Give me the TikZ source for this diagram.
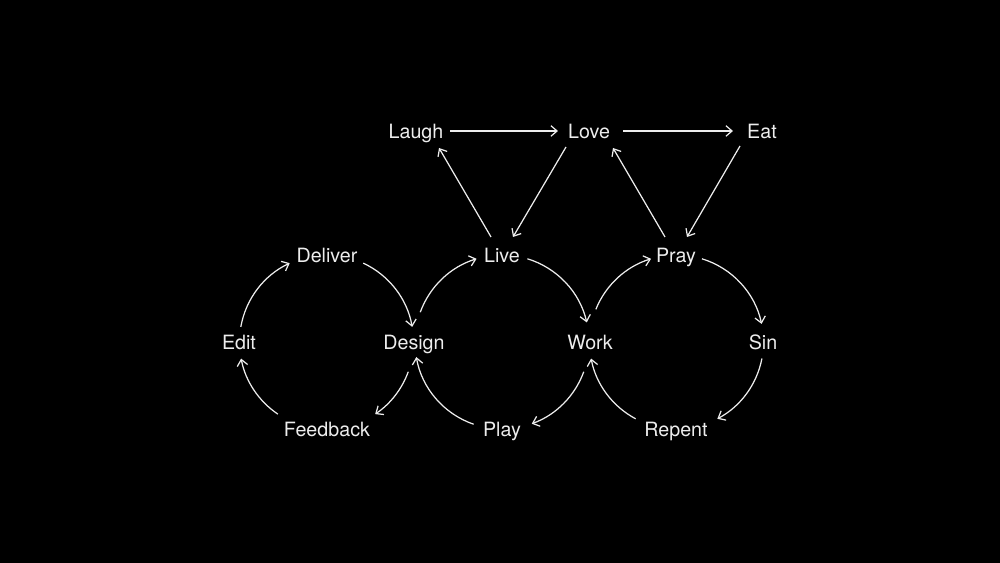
\documentclass[tikz,border=0pt]{standalone}
\usepackage{fontspec}
\setmainfont{TeX Gyre Heros}
\usetikzlibrary{arrows.meta,calc}
\definecolor{fg}{gray}{0.93}
\begin{document}
\begin{tikzpicture}[x=0.02cm,y=0.02cm,
  lbl/.style={text=fg, font=\fontsize{11.2}{13}\selectfont, inner sep=0pt, text height=8pt, text depth=0pt, anchor=center},
  arr/.style={draw=fg, line width=0.7pt, -{Straight Barb[length=3.5pt,width=6pt]}}]
\fill[black] (0,0) rectangle (1000,563);
\useasboundingbox (0,0) rectangle (1000,563);
% nodes
\node[lbl] (Laugh) at (416,432) {Laugh};
\node[lbl] (Love) at (589,432) {Love};
\node[lbl] (Eat) at (762,432) {Eat};
\node[lbl] (Deliver) at (327,308) {Deliver};
\node[lbl] (Live) at (502,308) {Live};
\node[lbl] (Pray) at (676,308) {Pray};
\node[lbl] (Edit) at (239,221) {Edit};
\node[lbl] (Design) at (414,221) {Design};
\node[lbl] (Work) at (590,221) {Work};
\node[lbl] (Sin) at (763,221) {Sin};
\node[lbl] (Feedback) at (327,134) {Feedback};
\node[lbl] (Play) at (502,134) {Play};
\node[lbl] (Repent) at (676,134) {Repent};
% circle centres
\coordinate (c1) at ($(Edit)!0.5!(Design)$);
\coordinate (c2) at ($(Design)!0.5!(Work)$);
\coordinate (c3) at ($(Work)!0.5!(Sin)$);
% straight connectors
\draw[arr] ($(Laugh)+(34,0)$) -- ($(Love)+(-31,0)$);
\draw[arr] ($(Love)+(34,0)$) -- ($(Eat)+(-29,0)$);
\draw[arr] ($(Live)+(-11,18)$) -- ($(Laugh)+(23,-17)$);
\draw[arr] ($(Love)+(-23,-16)$) -- ($(Live)+(11,18)$);
\draw[arr] ($(Pray)+(-11,18)$) -- ($(Love)+(24,-17)$);
\draw[arr] ($(Eat)+(-22,-15)$) -- ($(Pray)+(11,18)$);
% circle 1
\draw[arr] ($(c1)+(170:87)$) arc[start angle=170,end angle=115,radius=87];
\draw[arr] ($(c1)+(65:87)$) arc[start angle=65,end angle=10,radius=87];
\draw[arr] ($(c1)+(-20:87)$) arc[start angle=-20,end angle=-56,radius=87];
\draw[arr] ($(c1)+(-124:87)$) arc[start angle=-124,end angle=-169,radius=87];
% circle 2
\draw[arr] ($(c2)+(160:87)$) arc[start angle=160,end angle=107,radius=87];
\draw[arr] ($(c2)+(73:87)$) arc[start angle=73,end angle=13,radius=87];
\draw[arr] ($(c2)+(-20:87)$) arc[start angle=-20,end angle=-70,radius=87];
\draw[arr] ($(c2)+(-109:87)$) arc[start angle=-109,end angle=-170,radius=87];
% circle 3
\draw[arr] ($(c3)+(158:87)$) arc[start angle=158,end angle=107,radius=87];
\draw[arr] ($(c3)+(73:87)$) arc[start angle=73,end angle=12,radius=87];
\draw[arr] ($(c3)+(-11:87)$) arc[start angle=-11,end angle=-62,radius=87];
\draw[arr] ($(c3)+(-118:87)$) arc[start angle=-118,end angle=-169,radius=87];
\end{tikzpicture}
\end{document}
